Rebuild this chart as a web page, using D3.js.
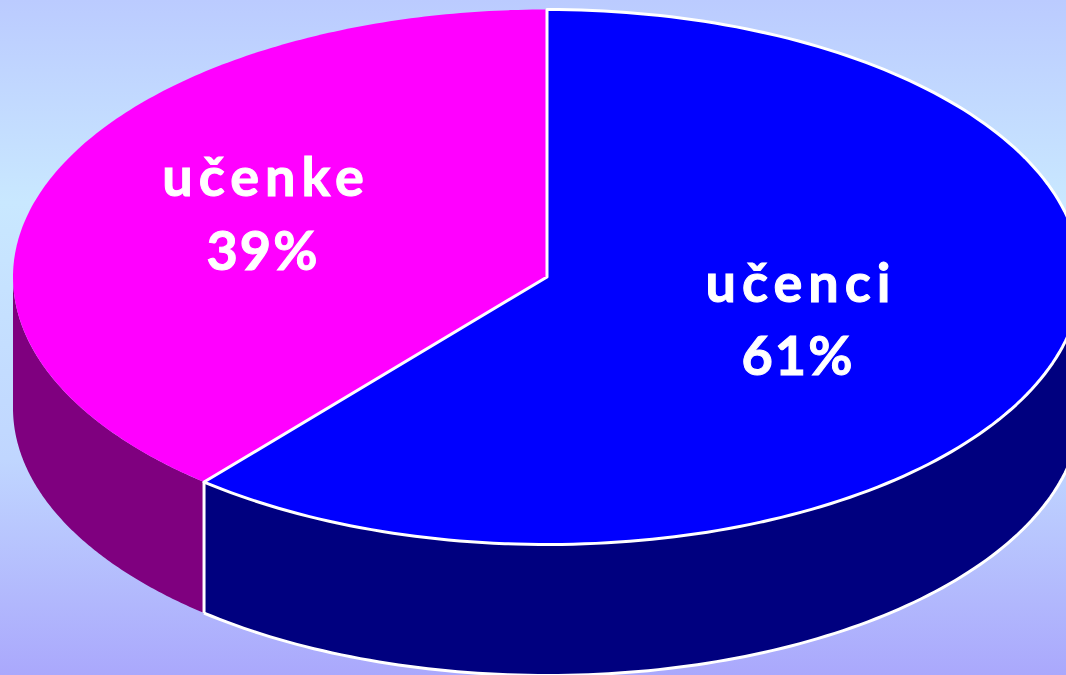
<!DOCTYPE html>
<html><head><meta charset="utf-8"><script src="https://cdn.jsdelivr.net/npm/d3@7/dist/d3.min.js"></script>
<style>html,body{margin:0;padding:0;overflow:hidden}svg{display:block}</style></head>
<body><svg id="c" width="1066" height="675"></svg>
<script>
const categories = ["učenci", "učenke"];
const shares = [61.1, 38.9];
const shareLabels = ["61%", "39%"];
const topColors = ["#0000ff", "#ff00ff"];
const sideColors = ["#00007f", "#7f007f"];
const bgStops = ["#bbcbff", "#c9e8ff", "#c0d6ff", "#aaa8fc"];
const bgOffsets = [0, 0.3, 0.68, 1];

const svg = d3.select("#c");
const W = 1066, H = 675;
const cx = 547, cy = 277, rx = 534, ry = 267.5, depth = 131;

const grad = svg.append("defs").append("linearGradient").attr("id","bg").attr("x1",0).attr("y1",0).attr("x2",0).attr("y2",1);
bgStops.forEach((c,i)=>grad.append("stop").attr("offset",bgOffsets[i]).attr("stop-color",c));
svg.append("rect").attr("width",W).attr("height",H).attr("fill","url(#bg)");

const pie = d3.pie().sort(null).value(d=>d)(shares);
const px = a => cx + rx*Math.sin(a);
const py = a => cy - ry*Math.cos(a);
const line = d3.line();
const sw = 3;

function frontArc(a0,a1){
  const lo = Math.max(a0, Math.PI/2), hi = Math.min(a1, 3*Math.PI/2);
  if (hi <= lo) return null;
  return d3.range(0,121).map(i=>lo+(hi-lo)*i/120);
}
const flat = svg.append("g");
// Side walls
pie.forEach((s,i)=>{
  const arc = frontArc(s.startAngle,s.endAngle);
  if(!arc) return;
  const top = arc.map(a=>[px(a),py(a)]);
  const bot = arc.slice().reverse().map(a=>[px(a),py(a)+depth]);
  flat.append("path").attr("d",line(top.concat(bot))+"Z").attr("fill",sideColors[i]);
  if(i===0){
    // Blue wall carries a white outline along its lower rim and its left end
    flat.append("path").attr("d",line(bot)).attr("fill","none").attr("stroke","#fff").attr("stroke-width",sw).attr("stroke-linejoin","round");
  }
});
// Top faces
pie.forEach((s,i)=>{
  const arc = d3.range(0,181).map(k=>s.startAngle+(s.endAngle-s.startAngle)*k/180);
  const pts = [[cx,cy]].concat(arc.map(a=>[px(a),py(a)]));
  flat.append("path").attr("d",line(pts)+"Z").attr("fill",topColors[i]);
});
// Blue face outline goes on top of the magenta, magenta's outer rim stays bare
{
  const s = pie[0];
  const arc = d3.range(0,181).map(k=>s.startAngle+(s.endAngle-s.startAngle)*k/180);
  const pts = [[cx,cy]].concat(arc.map(a=>[px(a),py(a)]));
  flat.append("path").attr("d",line(pts)+"Z").attr("fill","none").attr("stroke","#fff").attr("stroke-width",sw).attr("stroke-linejoin","round");
  const b = s.endAngle;
  flat.append("path").attr("d",line([[px(b),py(b)],[px(b),py(b)+depth]])).attr("fill","none").attr("stroke","#fff").attr("stroke-width",sw);
}

const labels = [{x1:801,x2:798,y1:302,y2:375,i:0},{x1:266,x2:263,y1:196,y2:270,i:1}];
labels.forEach(l=>{
  const g = svg.append("g").attr("fill","#fff").attr("stroke","#fff").attr("stroke-width",1).attr("font-family","Lato,sans-serif").attr("font-weight",700).attr("font-size",54).attr("text-anchor","middle");
  g.append("text").attr("x",l.x1).attr("y",l.y1).attr("letter-spacing",6).text(categories[l.i]);
  g.append("text").attr("x",l.x2).attr("y",l.y2).attr("letter-spacing",2).text(shareLabels[l.i]);
});
</script></body></html>
